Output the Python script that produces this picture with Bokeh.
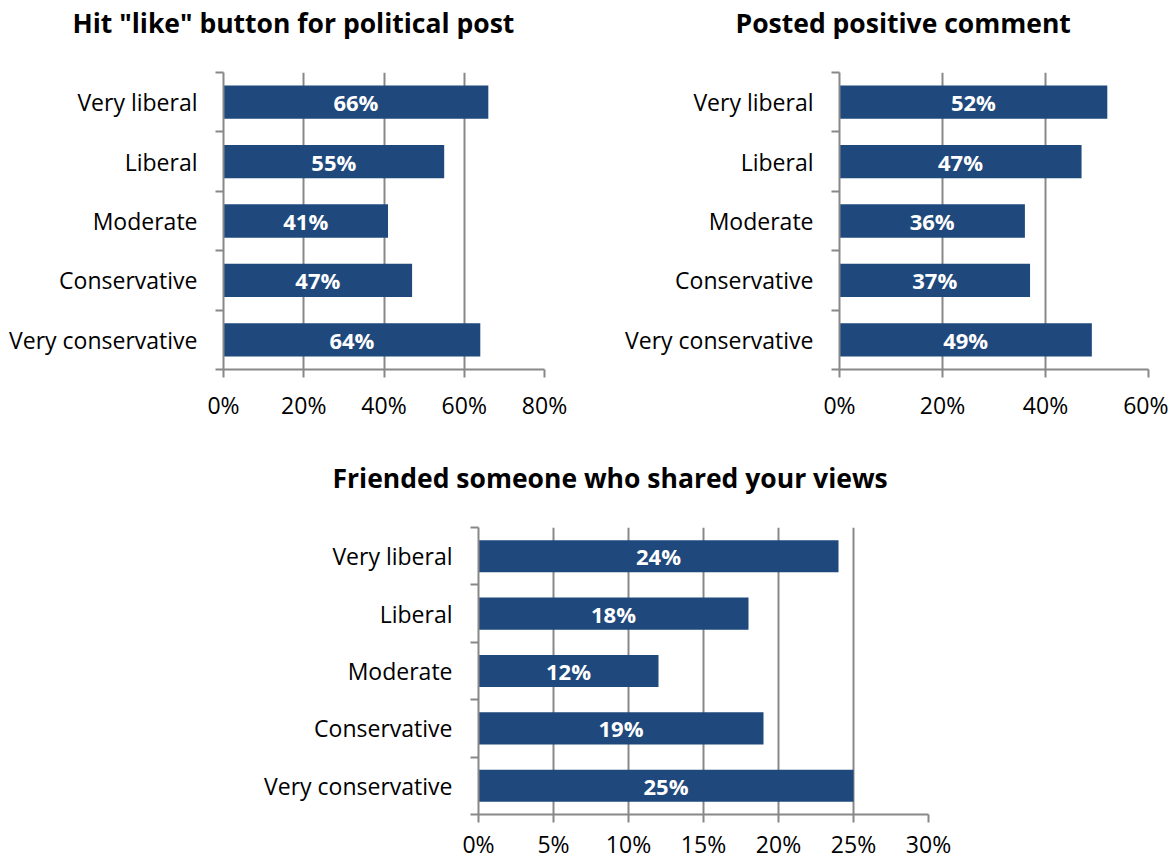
from bokeh.plotting import figure
from bokeh.layouts import column, row
from bokeh.models import FixedTicker, PrintfTickFormatter, Range1d, Title, ColumnDataSource
from bokeh.core.properties import value
from bokeh.embed import file_html
from bokeh.resources import INLINE

categories = ["Very liberal", "Liberal", "Moderate", "Conservative", "Very conservative"]
like_values = [66, 55, 41, 47, 64]
positive_values = [52, 47, 36, 37, 49]
friended_values = [24, 18, 12, 19, 25]

titles = ['Hit "like" button for political post', "Posted positive comment",
          "Friended someone who shared your views"]
x_ticks_1 = [0, 20, 40, 60, 80]
x_ticks_2 = [0, 20, 40, 60]
x_ticks_3 = [0, 5, 10, 15, 20, 25, 30]

FONT = "Open Sans"
BAR = "#1F497D"
GRID = "#888888"


def panel(title, cats, vals, xticks, left, fw, right, top, fh, bottom, toff, lab_standoff):
    n = len(cats)
    ys = [n - 1 - i for i in range(n)]
    p = figure(frame_width=fw, frame_height=fh, min_border_left=left, min_border_right=right,
               min_border_top=top, min_border_bottom=bottom,
               x_range=Range1d(xticks[0], xticks[-1]), y_range=Range1d(-0.5, n - 0.5),
               output_backend="svg", toolbar_location=None)
    p.outline_line_color = None
    p.background_fill_color = "white"
    p.border_fill_color = "white"
    src = ColumnDataSource(dict(y=ys, v=vals, mid=[v / 2 for v in vals],
                                lab=[f"{v}%" for v in vals]))
    p.hbar(y="y", right="v", left=0, height=0.56, source=src, fill_color=BAR, line_color=None)
    p.text(x="mid", y="y", text="lab", source=src, text_color="white",
           text_font=value(FONT), text_font_style="bold", text_font_size="22px",
           text_align="center", text_baseline="middle")
    # x axis
    xa = p.xaxis[0]
    xa.ticker = FixedTicker(ticks=xticks)
    xa.formatter = PrintfTickFormatter(format="%d%%")
    xa.axis_line_color = GRID
    xa.axis_line_width = 2
    xa.major_tick_line_color = GRID
    xa.major_tick_line_width = 2
    xa.major_tick_out = 8
    xa.major_tick_in = 0
    xa.minor_tick_line_color = None
    xa.major_label_text_font = FONT
    xa.major_label_text_font_size = "23px"
    xa.major_label_text_color = "black"
    xa.major_label_standoff = lab_standoff
    # y axis
    ya = p.yaxis[0]
    ya.ticker = FixedTicker(ticks=list(range(n)), minor_ticks=[i - 0.5 for i in range(n + 1)])
    ya.major_label_overrides = {ys[i]: cats[i] for i in range(n)}
    ya.axis_line_color = GRID
    ya.axis_line_width = 2
    ya.major_tick_line_color = None
    ya.minor_tick_line_color = GRID
    ya.minor_tick_line_width = 2
    ya.minor_tick_out = 8
    ya.minor_tick_in = 0
    ya.major_label_text_font = FONT
    ya.major_label_text_font_size = "23px"
    ya.major_label_text_color = "black"
    ya.major_label_standoff = 18
    p.xgrid.ticker = FixedTicker(ticks=xticks)
    p.xgrid.grid_line_color = GRID
    p.xgrid.grid_line_width = 2
    p.ygrid.grid_line_color = None
    # spacer between frame and title, then the title itself
    p.add_layout(Title(text=" ", standoff=28, text_font_size="1px"), "above")
    p.add_layout(Title(text=title, align="left", offset=toff, standoff=2,
                       text_font=FONT, text_font_style="bold", text_font_size="26.5px",
                       text_color="black"), "above")
    return p


p1 = panel(titles[0], categories, like_values, x_ticks_1, 223, 321, 56, 72, 297, 60, -151, 11)
p2 = panel(titles[1], categories, positive_values, x_ticks_2, 239, 309, 20, 72, 297, 60, -104, 11)
p3 = panel(titles[2], categories, friended_values, x_ticks_3, 478, 450, 40, 98, 287, 40, -146, 5)

layout = column(row(p1, p2, spacing=0), p3, spacing=0)
open("out.html", "w").write(file_html(layout, INLINE))
